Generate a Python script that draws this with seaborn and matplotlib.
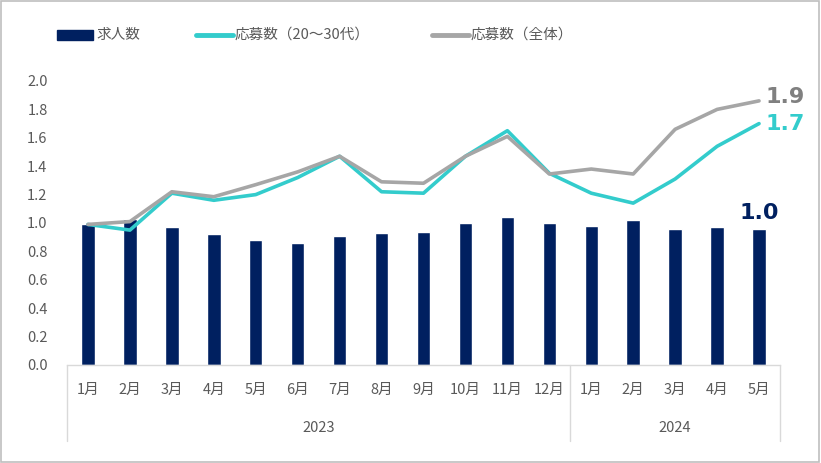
import numpy as np
import pandas as pd
import matplotlib
matplotlib.use("Agg")
import matplotlib.pyplot as plt
import matplotlib.patches as mpatches
from matplotlib.lines import Line2D
import seaborn as sns

# data
months = ["1月", "2月", "3月", "4月", "5月", "6月", "7月", "8月", "9月", "10月", "11月", "12月",
          "1月", "2月", "3月", "4月", "5月"]
years = ["2023"] * 12 + ["2024"] * 5
jobs = [0.99, 1.03, 0.97, 0.92, 0.88, 0.86, 0.91, 0.93, 0.94, 1.00, 1.04, 1.00,
        0.98, 1.02, 0.96, 0.97, 0.955]
apply_young = [0.99, 0.95, 1.21, 1.16, 1.20, 1.32, 1.47, 1.22, 1.21, 1.47, 1.65, 1.35,
               1.21, 1.14, 1.31, 1.54, 1.70]
apply_all = [0.99, 1.01, 1.22, 1.185, 1.27, 1.36, 1.47, 1.29, 1.28, 1.47, 1.61, 1.345,
             1.38, 1.345, 1.66, 1.80, 1.86]
labels = ["求人数", "応募数（20～30代）", "応募数（全体）"]

NAVY = "#002060"
TEAL = "#33CCCC"
GRAY = "#A6A6A6"
TXT = "#595959"

sns.set_theme(style="white")
plt.rcParams["font.family"] = ["Noto Sans CJK JP", "DejaVu Sans"]

df = pd.DataFrame({
    "pos": np.arange(len(months)),
    "month": months,
    "year": years,
    "jobs": jobs,
    "young": apply_young,
    "all": apply_all,
})

fig = plt.figure(figsize=(8.21, 4.63), dpi=100)
ax = fig.add_axes([67 / 821, 1 - 365 / 463, 713 / 821, 284 / 463])

sns.barplot(data=df, x="pos", y="jobs", color=NAVY, width=0.32, saturation=1,
            native_scale=True, ax=ax)
sns.lineplot(data=df, x="pos", y="young", color=TEAL, linewidth=2.6, ax=ax)
sns.lineplot(data=df, x="pos", y="all", color=GRAY, linewidth=2.6, ax=ax)

ax.set_xlim(-0.5, len(months) - 0.5)
ax.set_ylim(0, 2.0)
ax.set_yticks(np.arange(0, 2.01, 0.2))
ax.set_yticklabels([f"{v:.1f}" for v in np.arange(0, 2.01, 0.2)], color=TXT, fontsize=10.5)
ax.tick_params(axis="y", length=0, pad=14)
ax.set_xticks([])
ax.set_xlabel("")
ax.set_ylabel("")
for s in ["left", "right", "top"]:
    ax.spines[s].set_visible(False)
ax.spines["bottom"].set_color("#D9D9D9")
ax.spines["bottom"].set_linewidth(1)

# two-level category axis
trans = ax.get_xaxis_transform()
for i, m in enumerate(months):
    ax.text(i, -0.088, m, transform=trans, ha="center", va="center", color=TXT, fontsize=10.5)
ax.text(5.5, -0.222, "2023", transform=trans, ha="center", va="center", color=TXT, fontsize=10.5)
ax.text(14, -0.222, "2024", transform=trans, ha="center", va="center", color=TXT, fontsize=10.5)
for xv in [-0.5, 11.5, 16.5]:
    ax.add_line(Line2D([xv, xv], [0, -0.268], transform=trans, color="#D9D9D9",
                       linewidth=1, clip_on=False))

# end labels
last = len(months) - 1
ax.annotate(f"{apply_all[-1]:.1f}", (last, apply_all[-1]), xytext=(6, 4),
            textcoords="offset pixels", ha="left", va="center", color="#808080",
            fontsize=16, fontweight="bold", family="DejaVu Sans")
ax.annotate(f"{apply_young[-1]:.1f}", (last, apply_young[-1]), xytext=(6, 0),
            textcoords="offset pixels", ha="left", va="center", color=TEAL,
            fontsize=16, fontweight="bold", family="DejaVu Sans")
ax.annotate(f"{jobs[-1]:.1f}", (last, jobs[-1]), xytext=(0, 16),
            textcoords="offset pixels", ha="center", va="center", color=NAVY,
            fontsize=16, fontweight="bold", family="DejaVu Sans")

# legend
ly = 1 - 35 / 463
fig.patches.append(mpatches.Rectangle((57 / 821, 1 - 40 / 463), 36 / 821, 10 / 463,
                                      color=NAVY, transform=fig.transFigure))
fig.lines.append(Line2D([196 / 821, 233 / 821], [ly, ly], color=TEAL, linewidth=3.5,
                        solid_capstyle="round", transform=fig.transFigure))
fig.lines.append(Line2D([432 / 821, 469 / 821], [ly, ly], color=GRAY, linewidth=3.5,
                        solid_capstyle="round", transform=fig.transFigure))
for x0, t in zip([96, 235, 471], labels):
    fig.text(x0 / 821, ly, t, ha="left", va="center", color=TXT, fontsize=10.5)

# outer border
fig.patches.append(mpatches.Rectangle((0.001, 0.002), 0.997, 0.996, fill=False,
                                      edgecolor="#BFBFBF", linewidth=1.2,
                                      transform=fig.transFigure))

fig.savefig("out.png", dpi=100)
